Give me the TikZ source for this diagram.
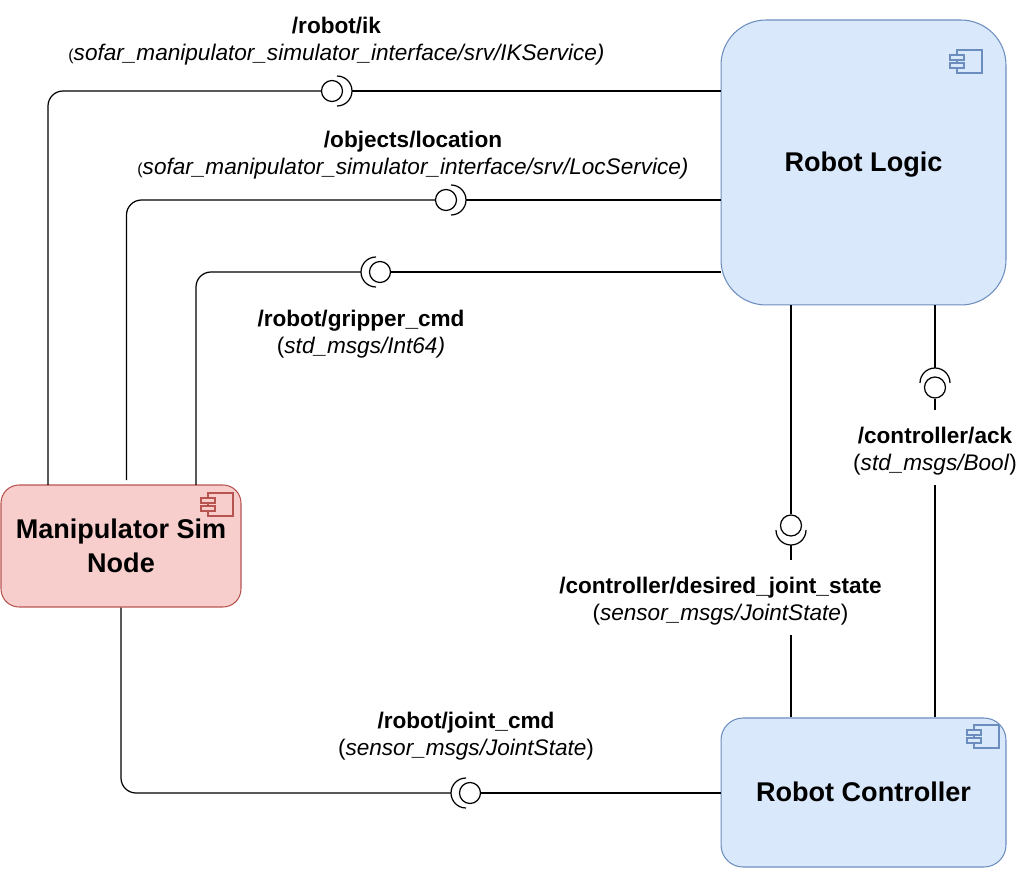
\documentclass[tikz,border=0pt]{standalone}
\usepackage{fontspec}
\setmainfont{Liberation Sans}
\definecolor{logicfill}{HTML}{DAE8FC}
\definecolor{logicline}{HTML}{6C8EBF}
\definecolor{simfill}{HTML}{F8CECC}
\definecolor{simline}{HTML}{B85450}
\tikzset{
  comp/.style={draw, line width=0.6pt, align=center, inner sep=0pt, font=\fontsize{15.4}{19.2}\selectfont\bfseries},
  logicbox/.style={comp, draw=logicline, fill=logicfill, text height=11.6pt, text depth=1pt},
  simbox/.style={comp, draw=simline, fill=simfill},
  topic/.style={align=center, inner sep=0pt, font=\fontsize{12.85}{15.3}\selectfont},
  wire/.style={line width=0.7pt, rounded corners=0.3cm},
  ball/.style={circle, draw, line width=0.7pt, minimum size=0.42cm, inner sep=0pt},
  socket/.style={line width=0.7pt},
  logicicon/.style={draw=logicline, fill=logicfill, line width=0.7pt},
  simicon/.style={draw=simline, fill=simfill, line width=0.7pt}
}
\newcommand{\compicon}[3]{
  \draw[#3] (#1,#2) rectangle ++(25,-23);
  \draw[#3] (#1-7,#2-5) rectangle ++(14,-5);
  \draw[#3] (#1-7,#2-13) rectangle ++(14,-5);
}
\begin{document}
\begin{tikzpicture}[x=0.02cm, y=0.02cm]
\useasboundingbox (0,0) rectangle (1034,870);
\node[logicbox, minimum width=5.7cm, minimum height=5.7cm, rounded corners=0.9cm] (logic) at (863.5,707.5) {Robot Logic};
\node[logicbox, minimum width=5.7cm, minimum height=2.98cm, rounded corners=0.44cm] (ctrl) at (863.5,77.5) {Robot Controller};
\node[simbox, minimum width=4.8cm, minimum height=2.44cm, rounded corners=0.36cm] (sim) at (121,324) {Manipulator Sim\\Node};
\compicon{957}{820}{logicicon}
\compicon{974}{145}{logicicon}
\compicon{208}{377}{simicon}

\node[ball] (ballik) at (332,779) {};
\node[ball] (balloc) at (446,670) {};
\node[ball] (ballgrip) at (380,598) {};
\node[ball] (balljoint) at (791,344.5) {};
\node[ball] (ballack) at (935,482.5) {};
\node[ball] (ballcmd) at (470,77) {};

\coordinate (tipik) at (352,779);
\coordinate (tiploc) at (466,670);
\coordinate (tipgrip) at (361,598);
\coordinate (tipjoint) at (791,325);
\coordinate (tipack) at (935,502);
\coordinate (tipcmd) at (451,77);
\coordinate (stubjoint) at (791,310);
\coordinate (gapjoint) at (791,235);
\coordinate (stuback) at (935,460);
\coordinate (gapack) at (935,385);
\coordinate (endik) at (48,385);
\coordinate (endloc) at (126.5,390);
\coordinate (endgrip) at (196,385);

\draw[socket] (tipik) ++(-15,15) arc (90:-90:15);
\draw[socket] (tiploc) ++(-15,15) arc (90:-90:15);
\draw[socket] (tipgrip) ++(15,15) arc (90:270:15);
\draw[socket] (tipjoint) ++(-15,15) arc (180:360:15);
\draw[socket] (tipack) ++(-15,-15) arc (180:0:15);
\draw[socket] (tipcmd) ++(15,15) arc (90:270:15);

\draw[wire] (logic.west |- tipik) -- (tipik);
\draw[wire] (ballik) -| (endik);
\draw[wire] (logic.west |- tiploc) -- (tiploc);
\draw[wire] (balloc) -| (endloc);
\draw[wire] (logic.west |- ballgrip) -- (ballgrip);
\draw[wire] (tipgrip) -| (endgrip);
\draw[wire] (logic.south -| balljoint) -- (balljoint);
\draw[wire] (tipjoint) -- (stubjoint);
\draw[wire] (gapjoint) -- (ctrl.north -| gapjoint);
\draw[wire] (logic.south -| tipack) -- (tipack);
\draw[wire] (ballack) -- (stuback);
\draw[wire] (gapack) -- (ctrl.north -| gapack);
\draw[wire] (sim.south) |- (tipcmd);
\draw[wire] (ballcmd) -- (ctrl.west |- ballcmd);

\node[topic] (labelik) at (336.5,829) {\textbf{/robot/ik}\\{\fontsize{9}{15.3}\selectfont(}\textit{sofar\_manipulator\_simulator\_interface/srv/IKService)}};
\node[topic] (labelloc) at (413,714.5) {\textbf{/objects/location}\\{\fontsize{9}{15.3}\selectfont(}\textit{sofar\_manipulator\_simulator\_interface/srv/LocService)}};
\node[topic] (labelgrip) at (361,535.5) {\textbf{/robot/gripper\_cmd}\\(\textit{std\_msgs/Int64)}};
\node[topic] (labelack) at (935,418.5) {\textbf{/controller/ack}\\(\textit{std\_msgs/Bool})};
\node[topic] (labeljoint) at (720.5,268.5) {\textbf{/controller/desired\_joint\_state}\\(\textit{sensor\_msgs/JointState})};
\node[topic] (labelcmd) at (466,133.5) {\textbf{/robot/joint\_cmd}\\(\textit{sensor\_msgs/JointState})};
\end{tikzpicture}
\end{document}
